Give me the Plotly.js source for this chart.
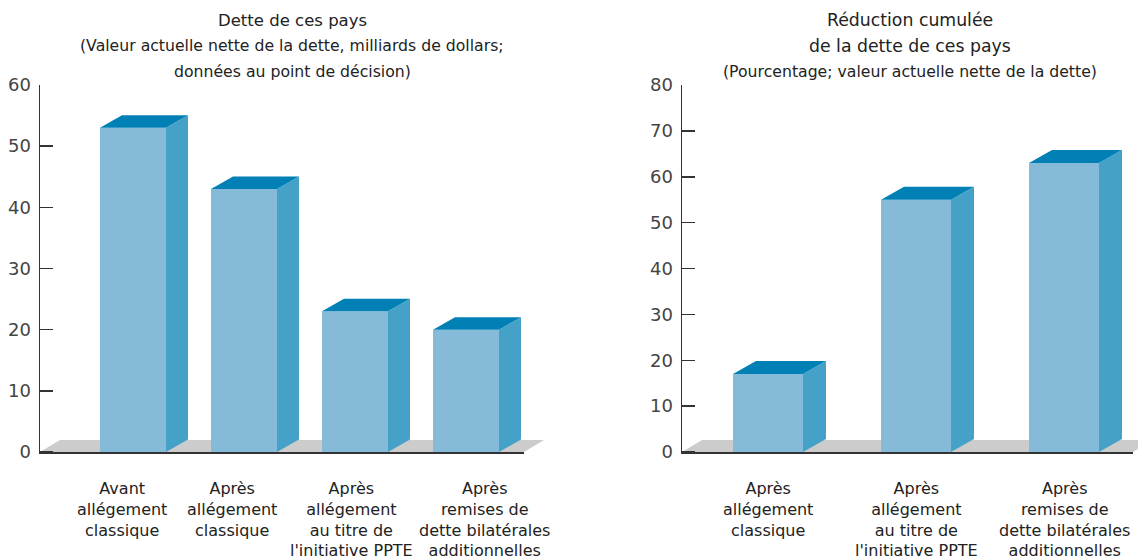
<!DOCTYPE html>
<html>
<head>
<meta charset="utf-8">
<script src="https://cdn.plot.ly/plotly-3.0.1.min.js"></script>
<style>html,body{margin:0;padding:0;background:#fff;}#chart{width:1138px;height:558px;}</style>
</head>
<body>
<div id="chart"></div>
<script>
// ---- data ----
const debtCategories = [
  "Avant<br>allégement<br>classique",
  "Après<br>allégement<br>classique",
  "Après<br>allégement<br>au titre de<br>l'initiative PPTE",
  "Après<br>remises de<br>dette bilatérales<br>additionnelles"
];
const debtValues = [53, 43, 23, 20];
const debtTicks = [0, 10, 20, 30, 40, 50, 60];

const reductionCategories = [
  "Après<br>allégement<br>classique",
  "Après<br>allégement<br>au titre de<br>l'initiative PPTE",
  "Après<br>remises de<br>dette bilatérales<br>additionnelles"
];
const reductionValues = [17, 55, 63];
const reductionTicks = [0, 10, 20, 30, 40, 50, 60, 70, 80];

const leftTitle = ["Dette de ces pays"];
const leftSubtitle = ["(Valeur actuelle nette de la dette, milliards de dollars;", "données au point de décision)"];
const rightTitle = ["Réduction cumulée", "de la dette de ces pays"];
const rightSubtitle = ["(Pourcentage; valeur actuelle nette de la dette)"];

// ---- styling / layout geometry ----
const W = 1138, H = 558;
const M = {l: 40, r: 0, t: 85, b: 104};
const plotW = W - M.l - M.r, plotH = H - M.t - M.b;
const FONT = "DejaVu Sans, Liberation Sans, sans-serif";
const C = {front: "#86BAD9", side: "#46A1C9", top: "#0180B5", floor: "#CCCCCC", axis: "#333333", text: "#222222", tick: "#444444"};

const panels = [
  {cats: debtCategories, vals: debtValues, ticks: debtTicks, ymax: 60,
   pxLeft: 40, pxRight: 544, center0: 133, step: 111, barPx: 66, frontEndPx: 524,
   depth: [22, 12.5], floorDepth: [20, 12], labelShift: [-11, -12, -4, 18], xa: "x", ya: "y"},
  {cats: reductionCategories, vals: reductionValues, ticks: reductionTicks, ymax: 80,
   pxLeft: 682, pxRight: 1138, center0: 768, step: 148, barPx: 70, frontEndPx: 1133,
   depth: [23, 13], floorDepth: [20, 12], labelShift: [0, 0, 0], xa: "x2", ya: "y2"}
];

const zeroPadPx = 2; // axis line sits slightly below bar bases
const traces = [], shapes = [], annotations = [];
const layout = {
  width: W, height: H, margin: M, showlegend: false,
  paper_bgcolor: "#fff", plot_bgcolor: "rgba(0,0,0,0)",
  font: {family: FONT, color: C.text},
  hovermode: false
};

function pyToPaper(p) { return (M.t + plotH - p) / plotH; }

panels.forEach((P, k) => {
  const sfx = k === 0 ? "" : "2";
  const xr = [(P.pxLeft - P.center0) / P.step, (P.pxRight - P.center0) / P.step];
  const pxPerY = (plotH - zeroPadPx) / P.ymax;
  const yr = [-zeroPadPx / pxPerY, P.ymax];
  const pxPerX = P.step;
  const dx = P.depth[0] / pxPerX, dy = P.depth[1] / pxPerY;
  const w = P.barPx / pxPerX;
  const xs = P.vals.map((_, i) => i);

  layout["xaxis" + sfx] = {
    domain: [(P.pxLeft - M.l) / plotW, (P.pxRight - M.l) / plotW],
    range: xr, showgrid: false, zeroline: false, showline: false,
    showticklabels: false, ticks: "", fixedrange: true, anchor: "y" + sfx
  };
  layout["yaxis" + sfx] = {
    domain: [0, 1], range: yr, tickvals: P.ticks, ticktext: P.ticks.map(String),
    showgrid: false, zeroline: false, showline: true, linecolor: C.axis, linewidth: 1.5,
    ticks: "inside", ticklen: 13, tickwidth: 1.5, tickcolor: C.axis,
    tickfont: {family: FONT, size: 18, color: C.tick}, ticklabelstandoff: 4,
    fixedrange: true, anchor: "x" + sfx
  };

  // front faces
  traces.push({type: "bar", x: xs, y: P.vals, base: 0, width: w, xaxis: P.xa, yaxis: P.ya,
    marker: {color: C.front, line: {width: 0}}});

  // side + top faces
  P.vals.forEach((v, i) => {
    const xl = i - w / 2, xrr = i + w / 2;
    traces.push({type: "scatter", mode: "lines", xaxis: P.xa, yaxis: P.ya, fill: "toself",
      fillcolor: C.side, line: {width: 0, color: C.side}, cliponaxis: false,
      x: [xrr, xrr + dx, xrr + dx, xrr, xrr], y: [0, dy, v + dy, v, 0]});
    traces.push({type: "scatter", mode: "lines", xaxis: P.xa, yaxis: P.ya, fill: "toself",
      fillcolor: C.top, line: {width: 0, color: C.top}, cliponaxis: false,
      x: [xl, xl + dx, xrr + dx, xrr, xl], y: [v, v + dy, v + dy, v, v]});
  });

  // floor
  const fx0 = xr[0], fx1 = (P.frontEndPx - P.center0) / P.step;
  const fdx = P.floorDepth[0] / pxPerX, fdy = P.floorDepth[1] / pxPerY;
  shapes.push({type: "path", xref: P.xa, yref: P.ya, layer: "below",
    path: `M ${fx0} 0 L ${fx1} 0 L ${fx1 + fdx} ${fdy} L ${fx0 + fdx} ${fdy} Z`,
    fillcolor: C.floor, line: {width: 0}});
  // base line
  const by = -1.2 / pxPerY;
  shapes.push({type: "line", xref: P.xa, yref: P.ya, layer: "above",
    x0: fx0, x1: fx1, y0: by, y1: by, line: {color: C.axis, width: 2.5}});

  // category labels
  P.cats.forEach((c, i) => {
    annotations.push({xref: P.xa, yref: P.ya, x: i, y: 0, yanchor: "top", xanchor: "center",
      xshift: P.labelShift[i], yshift: -25, text: c, showarrow: false, align: "center",
      font: {family: FONT, size: 16, color: C.text}});
  });
});

// titles
function addLines(lines, xa, startPy, size) {
  lines.forEach((t, j) => {
    annotations.push({xref: xa + " domain", yref: "paper", x: 0.5, y: pyToPaper(startPy + j * 25.5),
      xanchor: "center", yanchor: "middle", text: t, showarrow: false,
      font: {family: FONT, size: size, color: C.text}});
  });
}
addLines(leftTitle, "x", 20, 16.5);
addLines(leftSubtitle, "x", 46, 15.7);
addLines(rightTitle, "x2", 20, 17.3);
addLines(rightSubtitle, "x2", 71, 15.7);

layout.shapes = shapes;
layout.annotations = annotations;

Plotly.newPlot("chart", traces, layout, {staticPlot: true, displayModeBar: false});
</script>
</body>
</html>
